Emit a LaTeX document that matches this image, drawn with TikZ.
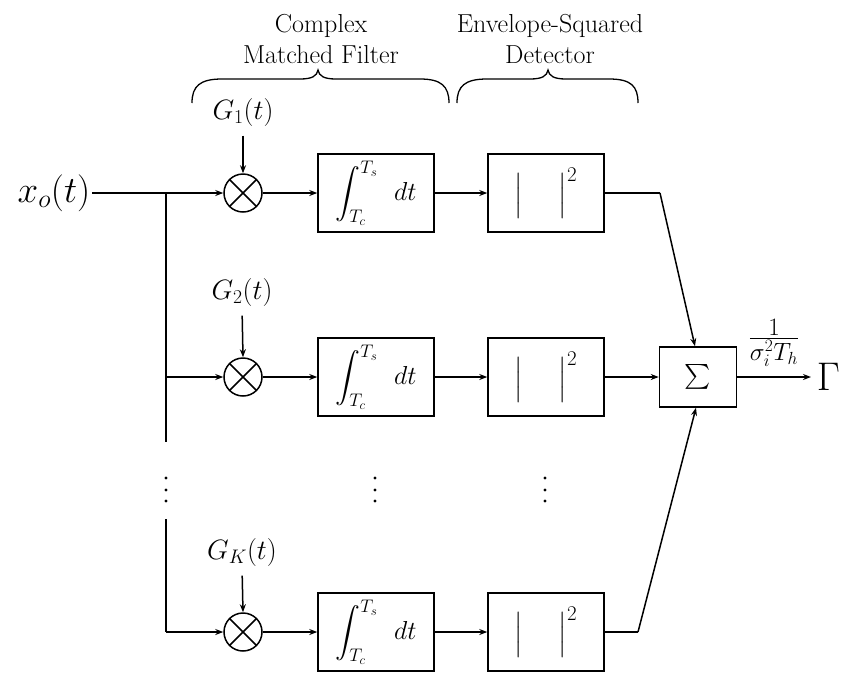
\RequirePackage{fix-cm}
\documentclass[tikz,border=0pt]{standalone}
\usepackage{exscale}
\usetikzlibrary{arrows.meta}
\begin{document}
\begin{tikzpicture}[x=1pt,y=-1pt,
  every path/.style={line width=1.5pt},
  arr/.style={-{Stealth[length=8pt,width=6pt]}},
  blk/.style={draw, line width=1.5pt, minimum width=116pt, minimum height=78pt, inner sep=0pt},
  sumbox/.style={draw, line width=1.5pt, minimum width=77pt, minimum height=60pt, inner sep=0pt, font=\fontsize{32}{36}\selectfont},
  mult/.style={draw, circle, line width=1.5pt, minimum size=38pt, inner sep=0pt,
    path picture={\draw[line width=1.5pt] (path picture bounding box.north west) -- (path picture bounding box.south east)
      (path picture bounding box.north east) -- (path picture bounding box.south west);}},
  glab/.style={inner sep=0pt, font=\fontsize{28}{32}\selectfont},
  inttxt/.style={font=\fontsize{26}{30}\selectfont},
  abstxt/.style={font=\fontsize{30}{34}\selectfont},
  head/.style={inner sep=0pt, align=center, font=\fontsize{26}{31}\selectfont},
  bracel/.style={line width=1.3pt}
]
\useasboundingbox (0,0) rectangle (841,673);

% headings
\node[head] (h1) at (321,39) {Complex\\Matched Filter};
\node[head] (h2) at (550,39) {Envelope-Squared\\Detector};
\draw[bracel] (192,103) .. controls (192,86) and (200,79) .. (222,79) -- (300,79)
  .. controls (312,79) and (317,76) .. (318,70) .. controls (319,76) and (324,79) .. (336,79)
  -- (420,79) .. controls (441,79) and (449,86) .. (449,103);
\draw[bracel] (457,103) .. controls (457,86) and (465,79) .. (487,79) -- (530,79)
  .. controls (542,79) and (547,76) .. (548,70) .. controls (549,76) and (554,79) .. (566,79)
  -- (609,79) .. controls (631,79) and (638,86) .. (638,103);

% input
\node[inner sep=1pt, anchor=east, font=\fontsize{37}{42}\selectfont] (xo) at (92,193) {$x_o(t)$};

% multipliers and their labels
\node[mult] (m1) at (243,193) {};
\node[mult] (m2) at (243,377) {};
\node[mult] (mK) at (243,632) {};
\node[glab] (g1) at (243,112) {$G_1(t)$};
\node[glab] (g2) at (242,292) {$G_2(t)$};
\node[glab] (gK) at (242,552) {$G_K(t)$};

% integrators
\node[blk, inttxt] (i1) at (376,193) {$\displaystyle\int_{T_c}^{T_s}\hspace{12pt}dt$};
\node[blk, inttxt] (i2) at (376,377) {$\displaystyle\int_{T_c}^{T_s}\hspace{12pt}dt$};
\node[blk, inttxt] (iK) at (376,632) {$\displaystyle\int_{T_c}^{T_s}\hspace{12pt}dt$};

% envelope-squared detectors
\node[blk, abstxt] (a1) at (546,193) {$\bigl|\hspace{36pt}\bigr|^2$};
\node[blk, abstxt] (a2) at (546,377) {$\bigl|\hspace{36pt}\bigr|^2$};
\node[blk, abstxt] (aK) at (546,632) {$\bigl|\hspace{36pt}\bigr|^2$};

% summer and output
\node[sumbox] (s) at (698,377) {$\sum$};
\node[inner sep=0pt, anchor=base west, font=\fontsize{40}{46}\selectfont] (G) at (816,390) {$\Gamma$};
\node[inner sep=0pt, font=\fontsize{25}{30}\selectfont] (fr) at (774,343) {$\frac{\textstyle 1}{\textstyle \sigma_i^2T_h}$};

% junction coordinates
\coordinate (j1) at (166,193);
\coordinate (j2) at (166,377);
\coordinate (jt) at (166,442);
\coordinate (jb) at (166,519);
\coordinate (jK) at (166,632);
\coordinate (b1) at (660,193);
\coordinate (bK) at (638,632);
\coordinate (o) at (811,377);

% connectors
\draw (xo.east) -- (j1);
\draw[arr] (j1) -- (m1.west);
\draw (j1) -- (jt);
\draw (jb) -- (jK);
\draw[arr] (j2) -- (m2.west);
\draw[arr] (jK) -- (mK.west);

\draw[arr, shorten <=9pt] (g1.south) -- (m1.north);
\draw[arr, shorten <=9pt] (g2.south) -- (m2.north);
\draw[arr, shorten <=9pt] (gK.south) -- (mK.north);

\draw[arr] (m1.east) -- (i1.west);
\draw[arr] (m2.east) -- (i2.west);
\draw[arr] (mK.east) -- (iK.west);
\draw[arr] (i1.east) -- (a1.west);
\draw[arr] (i2.east) -- (a2.west);
\draw[arr] (iK.east) -- (aK.west);

\draw (a1.east) -- (b1);
\draw[arr] (b1) -- ([xshift=-3pt]s.north);
\draw[arr] (a2.east) -- (s.west);
\draw (aK.east) -- (bK);
\draw[arr] (bK) -- ([xshift=-2pt]s.south);
\draw[arr] (s.east) -- (o);

% continuation dots
\foreach \x in {166,375,545}
  \foreach \y in {478,490,501}
    \fill (\x,\y) circle (1.7pt);
\end{tikzpicture}
\end{document}
